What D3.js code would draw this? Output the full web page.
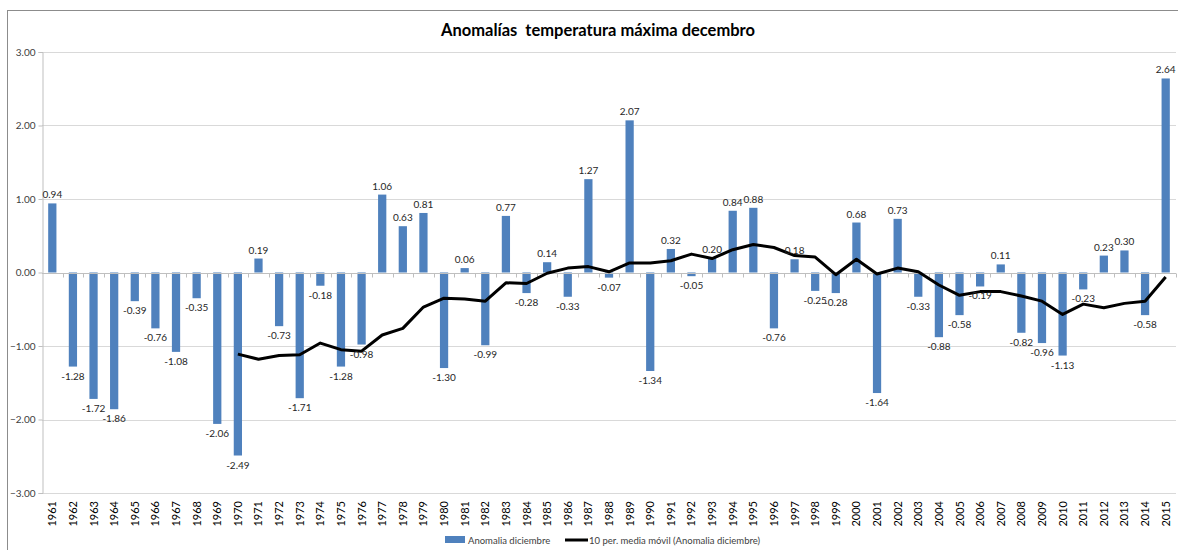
<!DOCTYPE html>
<html>
<head>
<meta charset="utf-8">
<script src="https://cdn.jsdelivr.net/npm/d3@7"></script>
<style>
  body { margin: 0; background: #fff; }
  text { font-family: Lato, "Open Sans", sans-serif; }
</style>
</head>
<body>
<svg id="chart"></svg>
<script>
const years = d3.range(1961, 2016).map(String)

const anomalia = [0.94, -1.28, -1.72, -1.86, -0.39, -0.76, -1.08, -0.35, -2.06, -2.49,
  0.19, -0.73, -1.71, -0.18, -1.28, -0.98, 1.06, 0.63, 0.81, -1.30,
  0.06, -0.99, 0.77, -0.28, 0.14, -0.33, 1.27, -0.07, 2.07, -1.34,
  0.32, -0.05, 0.20, 0.84, 0.88, -0.76, 0.18, -0.25, -0.28, 0.68,
  -1.64, 0.73, -0.33, -0.88, -0.58, -0.19, 0.11, -0.82, -0.96, -1.13,
  -0.23, 0.23, 0.30, -0.58, 2.64]

// 10 per. media movil, 1970..2015
const mediaYears = d3.range(1970, 2016).map(String)
const media = [-1.11, -1.18, -1.13, -1.12, -0.96, -1.05, -1.07, -0.85, -0.76, -0.47,
  -0.35, -0.36, -0.39, -0.14, -0.15, -0.01, 0.06, 0.08, 0.01, 0.13,
  0.13, 0.16, 0.25, 0.19, 0.31, 0.38, 0.34, 0.23, 0.21, -0.03,
  0.18, -0.02, 0.06, 0.01, -0.17, -0.31, -0.26, -0.26, -0.32, -0.39,
  -0.57, -0.43, -0.48, -0.42, -0.39, -0.06]

const yTicks = [3, 2, 1, 0, -1, -2, -3]

const width = 1178, height = 550
const margin = { top: 52, right: 2, bottom: 57, left: 42 }

const svg = d3.select("#chart").attr("width", width).attr("height", height)

// chart frame
svg.append("rect")
  .attr("x", 7.5).attr("y", 10.5)
  .attr("width", width).attr("height", height)
  .attr("fill", "none").attr("stroke", "#8c8c8c")

svg.append("text")
  .attr("x", 598).attr("y", 36)
  .attr("text-anchor", "middle")
  .attr("font-size", 16.5).attr("font-weight", "bold")
  .attr("fill", "#000")
  .style("white-space", "pre")
  .text("Anomalías  temperatura máxima decembro")

var x = d3.scaleBand()
  .domain(years)
  .range([margin.left, width - margin.right])
  .paddingInner(0.6)
  .paddingOuter(0.3)

var y = d3.scaleLinear()
  .domain([-3, 3])
  .range([height - margin.bottom, margin.top])

// gridlines
svg.append("g")
  .selectAll("line")
  .data(yTicks)
  .join("line")
  .attr("x1", margin.left).attr("x2", width - margin.right)
  .attr("y1", d => Math.round(y(d)) + 0.5).attr("y2", d => Math.round(y(d)) + 0.5)
  .attr("stroke", "#d9d9d9").attr("stroke-width", 1)

// y axis
var yAxis = svg.append("g")
  .attr("transform", "translate(" + (margin.left + 0.5) + ",0)")
  .call(d3.axisLeft(y).tickValues(yTicks).tickFormat(d3.format(".2f")).tickSize(4))
yAxis.select(".domain").attr("stroke", "#bfbfbf")
yAxis.selectAll(".tick line").attr("stroke", "#bfbfbf")
yAxis.selectAll(".tick text")
  .attr("font-size", 10).attr("fill", "#404040")
  .attr("font-family", "Lato, sans-serif")
  .attr("x", -7)

// bars
svg.append("g")
  .selectAll("rect")
  .data(anomalia)
  .join("rect")
  .attr("x", (d, i) => x(years[i]))
  .attr("width", x.bandwidth())
  .attr("y", d => y(Math.max(0, d)))
  .attr("height", d => Math.abs(y(d) - y(0)))
  .attr("fill", "#4f81bd")

// x axis along zero with category ticks
var step = x.step()
var zeroY = Math.round(y(0)) + 0.5
svg.append("line")
  .attr("x1", margin.left).attr("x2", width - margin.right)
  .attr("y1", zeroY).attr("y2", zeroY)
  .attr("stroke", "#bfbfbf")
svg.append("g")
  .selectAll("line")
  .data(years)
  .join("line")
  .attr("x1", (d) => Math.round(x(d) + x.bandwidth() / 2 + step / 2) + 0.5)
  .attr("x2", (d) => Math.round(x(d) + x.bandwidth() / 2 + step / 2) + 0.5)
  .attr("y1", zeroY).attr("y2", zeroY + 4)
  .attr("stroke", "#bfbfbf")

// year labels
svg.append("g")
  .selectAll("text")
  .data(years)
  .join("text")
  .attr("transform", d => "translate(" + (x(d) + x.bandwidth() / 2 + 4) + "," + (height - margin.bottom + 8) + ") rotate(-90)")
  .attr("text-anchor", "end")
  .attr("font-size", 11).attr("fill", "#000")
  .text(d => d)

// moving average line
var line = d3.line()
  .x((d, i) => x(mediaYears[i]) + x.bandwidth() / 2)
  .y(d => y(d))
svg.append("path")
  .datum(media)
  .attr("fill", "none")
  .attr("stroke", "#000")
  .attr("stroke-width", 3)
  .attr("stroke-linejoin", "round")
  .attr("d", line)

// data labels
svg.append("g")
  .selectAll("text")
  .data(anomalia)
  .join("text")
  .attr("x", (d, i) => x(years[i]) + x.bandwidth() / 2)
  .attr("y", d => d >= 0 ? y(d) - 5 : y(d) + 13)
  .attr("text-anchor", "middle")
  .attr("font-size", 10).attr("fill", "#262626")
  .text(d => d.toFixed(2))

// legend
var lg = svg.append("g").attr("transform", "translate(0,540)")
lg.append("rect")
  .attr("x", 445).attr("y", -4).attr("width", 20).attr("height", 7)
  .attr("fill", "#4f81bd")
lg.append("text")
  .attr("x", 468).attr("y", 3.5)
  .attr("font-size", 9.5).attr("fill", "#404040")
  .text("Anomalia diciembre")
lg.append("line")
  .attr("x1", 565).attr("x2", 588).attr("y1", 0).attr("y2", 0)
  .attr("stroke", "#000").attr("stroke-width", 3)
lg.append("text")
  .attr("x", 589).attr("y", 3.5)
  .attr("font-size", 9.5).attr("fill", "#404040")
  .text("10 per. media móvil (Anomalia diciembre)")
</script>
</body>
</html>
